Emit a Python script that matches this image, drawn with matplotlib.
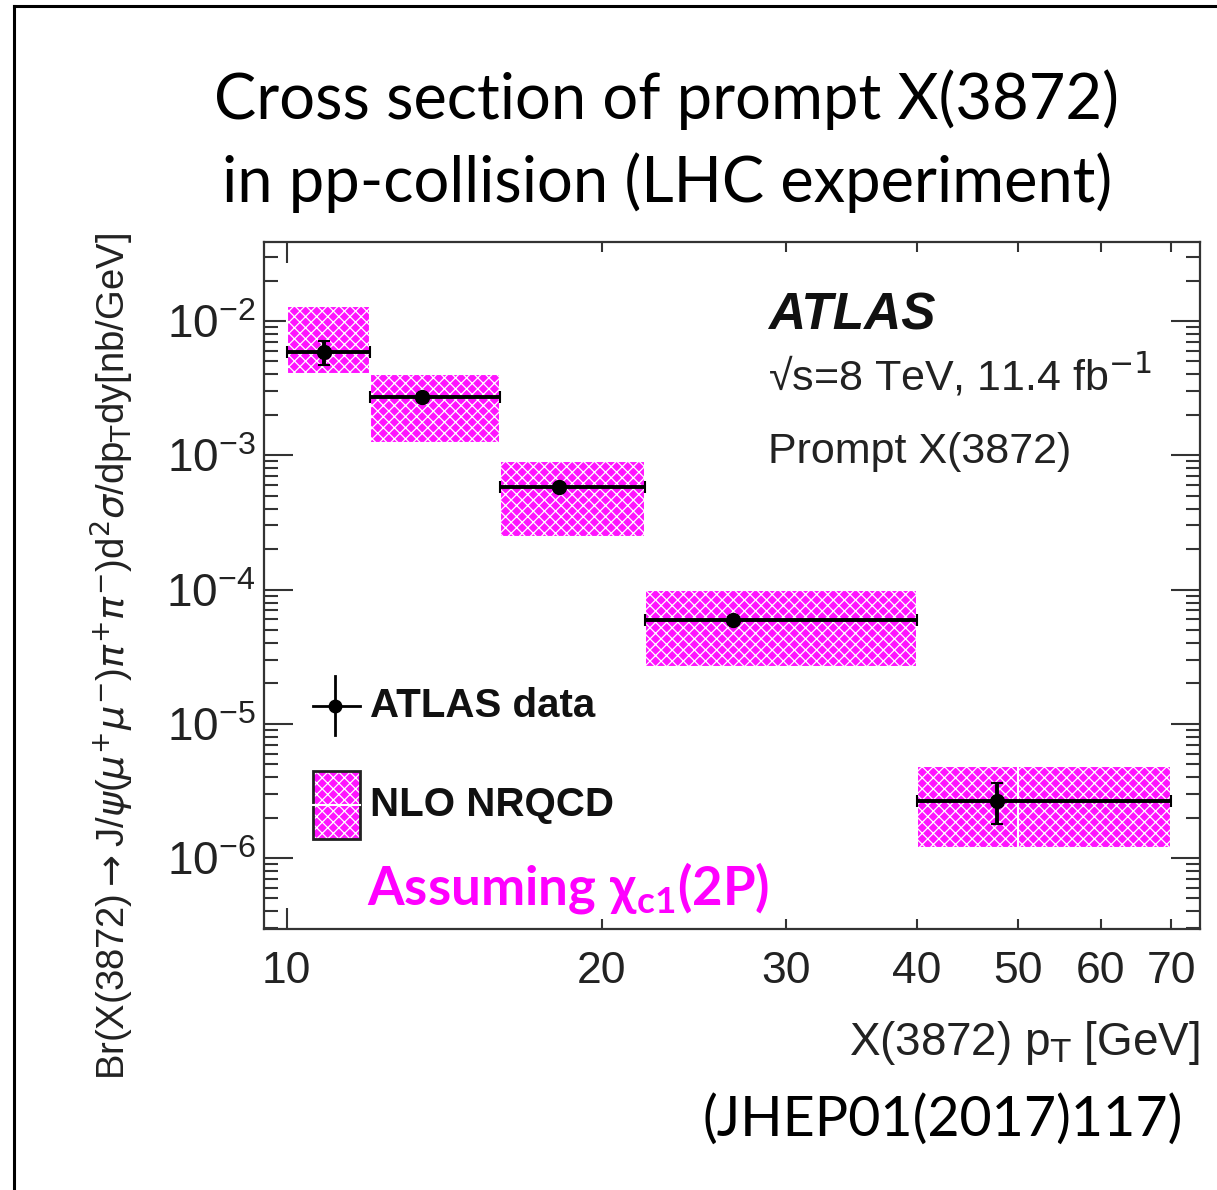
import numpy as np
import matplotlib
matplotlib.use("Agg")
import matplotlib.pyplot as plt
from matplotlib.lines import Line2D
from matplotlib.patches import Rectangle
from matplotlib.ticker import FixedLocator, LogLocator, NullFormatter, FixedFormatter

plt.rcParams['font.family'] = ['Liberation Sans', 'DejaVu Sans']
plt.rcParams['hatch.linewidth'] = 0.9
plt.rcParams['mathtext.fontset'] = 'dejavusans'
plt.rcParams['mathtext.rm'] = 'Lato:bold'
plt.rcParams['mathtext.it'] = 'Lato:bold'
plt.rcParams['mathtext.bf'] = 'Lato:bold'
plt.rcParams['mathtext.fallback'] = 'stixsans'

# NLO NRQCD band (chi_c1(2P) assumption)
th_lo_edge = [10, 12, 16, 22, 40, 50]
th_hi_edge = [12, 16, 22, 40, 50, 70]
th_low = [4.03e-3, 1.23e-3, 2.46e-4, 2.65e-5, 1.19e-6, 1.19e-6]
th_high = [1.29e-2, 4.03e-3, 9.06e-4, 1.0e-4, 4.84e-6, 4.84e-6]

# ATLAS data
pt = [10.85, 13.46, 18.2, 26.7, 47.7]
bin_lo = [10, 12, 16, 22, 40]
bin_hi = [12, 16, 22, 40, 70]
xsec = [5.88e-3, 2.72e-3, 5.8e-4, 5.93e-5, 2.66e-6]
xsec_lo = [4.7e-3, 2.6e-3, 5.55e-4, 5.65e-5, 1.79e-6]
xsec_hi = [7.1e-3, 2.85e-3, 6.05e-4, 6.2e-5, 3.62e-6]

xticks_minor = [20, 30, 40, 50, 60, 70]

fig = plt.figure(figsize=(12.17, 11.9), dpi=100)
ax = fig.add_axes([0.2169, 0.2193, 0.7691, 0.5773])
ax.set_xscale('log')
ax.set_yscale('log')
ax.set_xlim(9.51, 74.6)
ax.set_ylim(2.96e-7, 3.87e-2)

magenta = '#ff14ff'
lo = np.array(th_lo_edge, dtype=float)
hi = np.array(th_hi_edge, dtype=float)
ax.bar(lo, np.array(th_high) - np.array(th_low), bottom=th_low, width=hi - lo,
       align='edge', color=magenta, edgecolor='white', linewidth=1.5,
       hatch='xxx', zorder=2)

pt_a = np.array(pt)
xs = np.array(xsec)
xerr = [pt_a - np.array(bin_lo), np.array(bin_hi) - pt_a]
yerr = [xs - np.array(xsec_lo), np.array(xsec_hi) - xs]
ax.errorbar(pt_a, xs, xerr=xerr, yerr=yerr, fmt='o', color='black',
            ms=10, elinewidth=2.8, capsize=4, capthick=1.5, zorder=3)

# axes styling
for s in ax.spines.values():
    s.set_linewidth(1.6)
    s.set_color('#333333')
ax.xaxis.set_major_locator(FixedLocator([10]))
ax.xaxis.set_minor_locator(FixedLocator(xticks_minor))
ax.xaxis.set_major_formatter(FixedFormatter(['10']))
ax.xaxis.set_minor_formatter(FixedFormatter([str(v) for v in xticks_minor]))
ax.yaxis.set_major_locator(LogLocator(base=10, numticks=20))
ax.yaxis.set_minor_locator(LogLocator(base=10, subs=np.arange(2, 10), numticks=20))
ax.yaxis.set_minor_formatter(NullFormatter())
ax.tick_params(axis='x', which='major', direction='in', length=15, width=1.5,
               top=True, labelsize=32, pad=16, colors='#333333', labelcolor='#222222')
ax.tick_params(axis='x', which='minor', direction='in', length=7, width=1.5,
               top=True, labelsize=32, pad=16, colors='#333333', labelcolor='#222222')
ax.tick_params(axis='y', which='major', direction='in', length=21, width=1.5,
               right=True, labelsize=33, pad=6, colors='#333333', labelcolor='#222222')
ax.tick_params(axis='y', which='minor', direction='in', length=10, width=1.5,
               right=True, colors='#333333')

# labels inside the plot
ax.text(0.5385, 0.892, 'ATLAS', transform=ax.transAxes, fontsize=37,
        fontweight='bold', fontstyle='italic', va='center', ha='left', color='#111111')
ax.text(0.5385, 0.806, '\u221as=8 TeV, 11.4 fb$^{-1}$', transform=ax.transAxes,
        fontsize=31, va='center', ha='left', color='#222222')
ax.text(0.5385, 0.694, 'Prompt X(3872)', transform=ax.transAxes,
        fontsize=31, va='center', ha='left', color='#222222')

# legend drawn by hand
ax.add_line(Line2D([0.0523, 0.1026], [0.3246, 0.3246], transform=ax.transAxes,
                   color='black', lw=2))
ax.add_line(Line2D([0.0759, 0.0759], [0.2824, 0.3683], transform=ax.transAxes,
                   color='black', lw=2))
ax.add_line(Line2D([0.0759], [0.3246], transform=ax.transAxes, marker='o',
                   ms=9, color='black'))
ax.text(0.1132, 0.3246, 'ATLAS data', transform=ax.transAxes, fontsize=29,
        fontweight='bold', va='center', ha='left', color='#111111')
ax.add_patch(Rectangle((0.0524, 0.131), 0.0502, 0.099, transform=ax.transAxes,
                       facecolor=magenta, edgecolor='white', hatch='xxx', lw=0))
ax.add_patch(Rectangle((0.0524, 0.131), 0.0502, 0.099, transform=ax.transAxes,
                       facecolor='none', edgecolor='#222222', lw=2))
ax.add_line(Line2D([0.0524, 0.1026], [0.1805, 0.1805], transform=ax.transAxes,
                   color='white', lw=1.5))
ax.text(0.1132, 0.1805, 'NLO NRQCD', transform=ax.transAxes, fontsize=29,
        fontweight='bold', va='center', ha='left', color='#111111')
ax.text(0.1101, 0.06, r'$\mathbf{Assuming\ \chi_{c1}(2P)}$', transform=ax.transAxes,
        fontsize=38, va='center', ha='left', color='#ff00ff', math_fontfamily='custom')

# axis titles
fig.text(112 / 1217, 1 - 657 / 1190,
         r'Br(X(3872)$\rightarrow$J/$\psi$($\mu^{+}\mu^{-}$)$\pi^{+}\pi^{-}$)d$^{2}\sigma$/dp$_{\mathrm{T}}$dy[nb/GeV]',
         rotation=90, fontsize=27.5, ha='center', va='center', color='#222222')
fig.text(1200 / 1217, 1 - 1043 / 1190, r'X(3872) p$_{\mathrm{T}}$ [GeV]', fontsize=33,
         ha='right', va='center', color='#222222')

# slide titles
fig.text(667 / 1217, 1 - 100 / 1190, 'Cross section of prompt X(3872)', fontsize=45.5,
         family='Lato', ha='center', va='center', color='black')
fig.text(667 / 1217, 1 - 183 / 1190, 'in pp-collision (LHC experiment)', fontsize=45.5,
         family='Lato', ha='center', va='center', color='black')
fig.text(1183 / 1217, 1 - 1120 / 1190, '(JHEP01(2017)117)', fontsize=40,
         family='Lato', ha='right', va='center', color='black')

# slide frame (top and left)
fig.add_artist(Line2D([14 / 1217, 14 / 1217], [0, 1 - 6 / 1190], color='black', lw=2.2))
fig.add_artist(Line2D([14 / 1217, 1], [1 - 6 / 1190, 1 - 6 / 1190], color='black', lw=2.2))

fig.savefig('out.png', dpi=100)
